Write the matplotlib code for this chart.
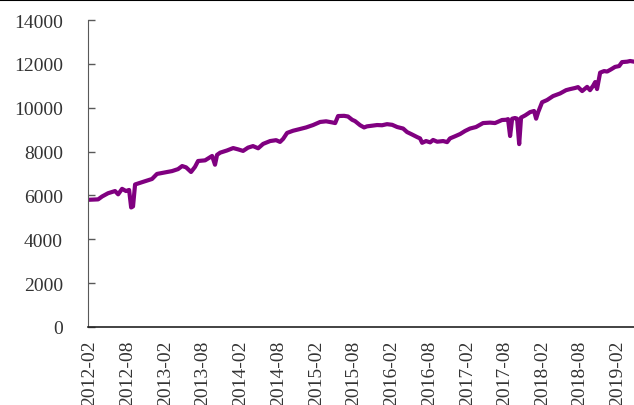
import matplotlib
matplotlib.use('Agg')
import matplotlib.pyplot as plt
import matplotlib.dates as mdates
from matplotlib.lines import Line2D
import pandas as pd

dates = [
    '2012-01-22', '2012-03-11', '2012-03-30', '2012-04-28', '2012-06-01', '2012-06-16',
    '2012-07-05', '2012-07-24', '2012-08-08', '2012-08-18', '2012-08-27', '2012-09-06',
    '2012-10-15', '2012-11-27', '2012-12-21', '2013-01-29', '2013-03-04', '2013-04-02',
    '2013-04-22', '2013-05-11', '2013-06-04', '2013-06-23', '2013-07-08', '2013-08-11',
    '2013-09-14', '2013-09-28', '2013-10-08', '2013-10-23', '2013-11-25', '2013-12-25',
    '2014-01-18', '2014-02-11', '2014-03-07', '2014-03-31', '2014-04-25', '2014-05-19',
    '2014-06-22', '2014-07-21', '2014-08-09', '2014-08-24', '2014-09-12', '2014-10-11',
    '2014-11-14', '2014-12-13', '2015-01-16', '2015-02-19', '2015-03-20', '2015-04-18',
    '2015-05-03', '2015-05-17', '2015-06-15', '2015-07-04', '2015-07-24', '2015-08-07',
    '2015-09-01', '2015-09-20', '2015-10-04', '2015-10-29', '2015-11-22', '2015-12-16',
    '2016-01-09', '2016-02-03', '2016-02-27', '2016-03-27', '2016-04-15', '2016-05-09',
    '2016-06-03', '2016-06-17', '2016-06-27', '2016-07-16', '2016-08-05', '2016-08-19',
    '2016-09-08', '2016-10-07', '2016-10-26', '2016-11-09', '2016-12-04', '2016-12-28',
    '2017-01-21', '2017-02-14', '2017-03-15', '2017-04-18', '2017-05-22', '2017-06-15',
    '2017-07-19', '2017-08-08', '2017-08-17', '2017-08-27', '2017-09-06', '2017-09-20',
    '2017-09-30', '2017-10-10', '2017-10-19', '2017-11-08', '2017-12-02', '2017-12-21',
    '2017-12-31', '2018-01-10', '2018-01-29', '2018-02-22', '2018-03-23', '2018-04-26',
    '2018-05-25', '2018-06-14', '2018-07-08', '2018-07-22', '2018-08-11', '2018-09-04',
    '2018-09-18', '2018-10-03', '2018-10-13', '2018-10-22', '2018-11-06', '2018-11-25',
    '2018-12-10', '2018-12-29', '2019-01-17', '2019-02-06', '2019-02-20', '2019-03-17',
    '2019-03-31', '2019-04-19',
]
values = [
    5800, 5820, 5950, 6100, 6200, 6050,
    6300, 6200, 6250, 5450, 5500, 6500,
    6620, 6750, 6980, 7050, 7110, 7200,
    7340, 7280, 7070, 7300, 7570, 7600,
    7800, 7400, 7850, 7950, 8050, 8160,
    8100, 8030, 8180, 8250, 8150, 8350,
    8480, 8520, 8440, 8580, 8850, 8950,
    9030, 9100, 9210, 9350, 9380, 9330,
    9300, 9620, 9630, 9600, 9450, 9390,
    9200, 9100, 9150, 9180, 9210, 9200,
    9250, 9220, 9120, 9050, 8890, 8780,
    8660, 8600, 8400, 8480, 8420, 8530,
    8450, 8480, 8430, 8600, 8700, 8800,
    8940, 9050, 9120, 9300, 9320, 9300,
    9440, 9450, 9480, 8710, 9500, 9530,
    9500, 8340, 9550, 9650, 9800, 9850,
    9500, 9800, 10250, 10350, 10530, 10650,
    10800, 10850, 10900, 10940, 10760, 10950,
    10800, 11000, 11170, 10850, 11600, 11670,
    11650, 11750, 11860, 11900, 12080, 12100,
    12130, 12100,
]
x = pd.to_datetime(dates)

plt.rcParams['font.family'] = ['Liberation Serif', 'DejaVu Serif']

fig = plt.figure(figsize=(6.34, 4.06), dpi=100)
ax = fig.add_axes([88 / 634, 78 / 406, 546 / 634, 307 / 406])

ax.plot(x, values, color='#800080', linewidth=3, solid_joinstyle='round')

# y axis
ax.set_ylim(0, 14000)
ax.set_yticks(range(0, 14001, 2000))
ax.tick_params(axis='y', direction='in', length=5, width=1, labelsize=14, pad=18,
               color='#595959', labelcolor='#333333')

# x axis: ticks every 6 months, labels only
ax.set_xlim(x[0], x[-1])
ticks = pd.date_range('2012-02-01', '2019-02-01', freq='6MS')
ax.set_xticks(ticks)
ax.xaxis.set_major_formatter(mdates.DateFormatter('%Y-%m'))
ax.tick_params(axis='x', length=0, labelsize=14, labelrotation=90, pad=9, labelcolor='#333333')

for side in ['top', 'right']:
    ax.spines[side].set_visible(False)
ax.spines['left'].set_color('#595959')
ax.spines['bottom'].set_color('#222222')
ax.spines['bottom'].set_linewidth(1.2)

# thin border line across the top of the image
fig.add_artist(Line2D([0, 1], [0.998, 0.998], transform=fig.transFigure, color='black', linewidth=1.5))

fig.savefig('out.png', dpi=100)
